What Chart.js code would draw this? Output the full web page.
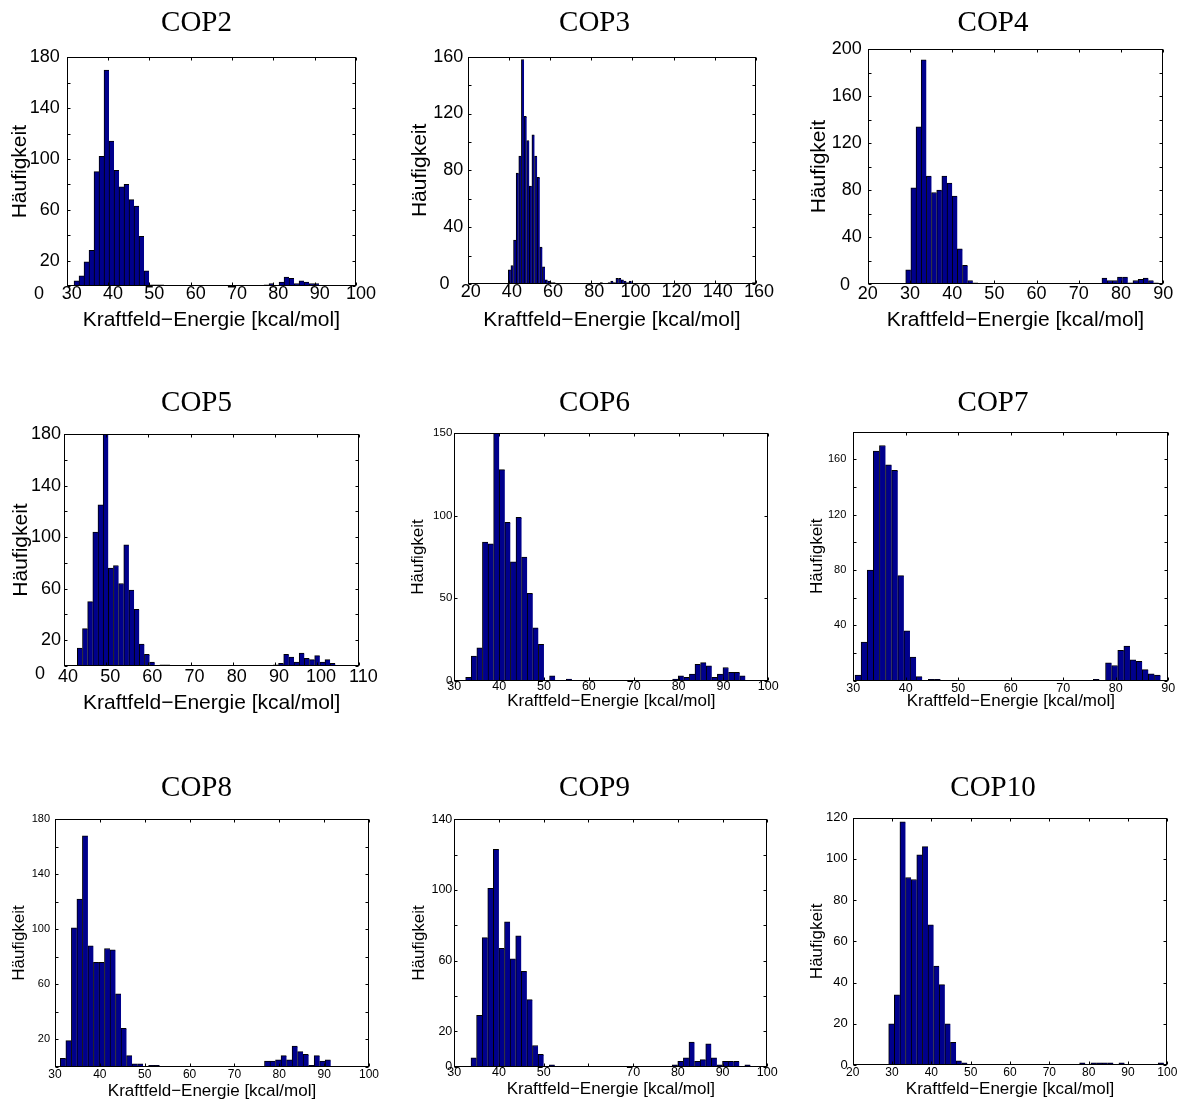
<!DOCTYPE html>
<html>
<head>
<meta charset="utf-8">
<title>Kraftfeld-Energie Histogramme COP2–COP10</title>
<script src="https://cdn.jsdelivr.net/npm/chart.js@4.4.1/dist/chart.umd.min.js"></script>
<style>
  html, body { margin: 0; padding: 0; background: #fff; }
  body { width: 1181px; height: 1107px; position: relative; overflow: hidden; }
  canvas { position: absolute; }
</style>
</head>
<body>
<script>
// ---------- data ----------
const panelNames = ['COP2', 'COP3', 'COP4', 'COP5', 'COP6', 'COP7', 'COP8', 'COP9', 'COP10'];
const xAxisTitle = 'Kraftfeld\u2212Energie [kcal/mol]';
const yAxisTitle = 'Häufigkeit';

// histogram binning: lower edge of the first bin and bin width [kcal/mol]
const binStart = [31.77, 39.7, 29.0, 43.16, 32.53, 30.32, 31.19, 33.73, 29.15];
const binWidth = [1.21, 1.275, 1.223, 1.223, 1.247, 1.164, 1.23, 1.25, 1.428];

// counts per bin
const countsCOP2 = [4, 8, 19, 28, 90, 102, 170, 114, 91, 78, 80, 68, 63, 39, 12, 1, 1, 1,
  0, 0, 0, 0, 0, 0, 0, 0, 0, 0, 0, 0, 0, 0, 0, 0, 0, 0, 0, 0,
  1, 2, 0, 3, 7, 6, 2, 4, 3, 2, 2];
const countsCOP3 = [10, 13, 31, 78, 90, 158, 118, 101, 69, 105, 90, 75, 26, 12, 3, 2, 1, 1,
  0, 0, 0, 0, 0, 0, 0, 0, 0, 0, 0, 0, 0, 0, 0, 0, 0,
  1, 0, 0, 1, 2, 1, 4, 4, 3, 2, 1, 2,
  0, 0, 0, 0, 0, 0, 0, 0, 0, 0,
  0, 0, 0, 0, 0, 0, 0, 0, 0, 0,
  0, 0, 0, 0, 0, 0, 0, 0, 0, 0,
  0, 0, 0, 0, 0, 0, 0, 0, 0, 0,
  0, 0, 0, 0, 0, 0,
  1];
const countsCOP4 = [12, 82, 134, 191, 92, 78, 80, 92, 86, 75, 30, 16, 3, 1,
  0, 0, 0, 0, 0, 0, 0, 0, 0, 0, 0, 0, 0, 0, 0, 0, 0, 0, 0, 0, 0, 0, 0, 0,
  5, 3, 3, 6, 6, 1, 3, 4, 5, 3, 1, 0];
const countsCOP5 = [14, 29, 50, 104, 125, 180, 76, 78, 64, 94, 59, 44, 17, 9, 3, 0, 1, 1,
  0, 0, 0, 0, 0, 0, 0, 0, 0, 0, 0, 0, 0, 0, 0, 0, 0, 0, 0, 0,
  1, 2, 9, 7, 3, 10, 6, 5, 8, 3, 5, 2];
const countsCOP6 = [2, 15, 20, 84, 83, 150, 128, 96, 72, 99, 75, 53, 32, 22, 0, 3, 0, 0, 1,
  0, 0, 0, 0, 0, 0, 0, 0, 0, 0, 0, 0, 0, 0, 0, 0, 0, 0,
  1, 3, 2, 4, 10, 11, 9, 2, 4, 8, 5, 5, 3];
const countsCOP7 = [4, 28, 80, 166, 170, 156, 152, 76, 36, 17, 3, 0, 1, 1,
  0, 0, 0, 0, 0, 0, 0, 0, 0, 0, 0, 0, 0, 0, 0, 0, 0, 0, 0, 0, 0, 0, 0, 0, 0,
  1, 0,
  13, 11, 22, 25, 15, 14, 8, 5, 4];
const countsCOP8 = [6, 19, 101, 122, 168, 88, 76, 76, 86, 85, 53, 28, 8, 2, 2, 0, 1, 1,
  0, 0, 0, 0, 0, 0, 0, 0, 0, 0, 0, 0, 0, 0, 0, 0, 0, 0, 0,
  4, 4, 5, 8, 5, 15, 11, 9, 1, 8, 4, 5];
const countsCOP9 = [5, 29, 73, 101, 123, 67, 82, 61, 74, 54, 38, 12, 7, 0, 1,
  0, 0, 0, 0, 0, 0, 0, 0, 0, 0, 0, 0, 0, 0, 0, 0, 0, 0, 0, 0, 0,
  1, 3, 5, 14, 3, 4, 13, 5, 1, 3, 3, 3, 0, 1];
const countsCOP10 = [20, 34, 118, 91, 90, 102, 106, 68, 48, 39, 20, 11, 2, 1,
  0, 0, 0, 0, 0, 0, 0, 0, 0, 0, 0, 0, 0, 0, 0, 0, 0, 0, 0, 0,
  1, 0, 1, 1, 1, 1, 0, 1, 0, 0, 0, 0, 0, 0, 1];
const panelCounts = [countsCOP2, countsCOP3, countsCOP4, countsCOP5, countsCOP6,
  countsCOP7, countsCOP8, countsCOP9, countsCOP10];

// axis limits and ticks
const xMin = [30, 20, 20, 40, 30, 30, 30, 30, 20];
const xMax = [100, 160, 90, 110, 100, 90, 100, 100, 100];
const xStep = [10, 20, 10, 10, 10, 10, 10, 10, 10];
const yMax = [180, 160, 200, 180, 150, 180, 180, 140, 120];
const yStep = [20, 20, 20, 20, 50, 20, 20, 20, 20];
const xTickLabels = [
  [30, 40, 50, 60, 70, 80, 90, 100],
  [20, 40, 60, 80, 100, 120, 140, 160],
  [20, 30, 40, 50, 60, 70, 80, 90],
  [40, 50, 60, 70, 80, 90, 100, 110],
  [30, 40, 50, 60, 70, 80, 90, 100],
  [30, 40, 50, 60, 70, 80, 90],
  [30, 40, 50, 60, 70, 80, 90, 100],
  [30, 40, 50, 70, 80, 90, 100],
  [20, 30, 40, 50, 60, 70, 80, 90, 100]
];
const yTickLabels = [
  [0, 20, 60, 100, 140, 180],
  [0, 40, 80, 120, 160],
  [0, 40, 80, 120, 160, 200],
  [0, 20, 60, 100, 140, 180],
  [0, 50, 100, 150],
  [40, 80, 120, 160],
  [20, 60, 100, 140, 180],
  [0, 20, 60, 100, 140],
  [0, 20, 40, 60, 80, 100, 120]
];

// ---------- layout & style ----------
const BAR_FILL = '#00008C';
const colFrames = [{ left: 0, width: 393 }, { left: 398, width: 393 }, { left: 805, width: 376 }];
const rowFrames = [{ top: 0, height: 380 }, { top: 380, height: 385 }, { top: 765, height: 342 }];
// plot frame of each panel on the page: [left, top, right, bottom]
const plotFrames = [
  [66.7, 57.3, 356, 286], [467.7, 56.7, 756, 284], [867.7, 49.3, 1163.3, 284],
  [64, 434, 359.3, 666], [454.3, 433.3, 768.3, 680.7], [853.3, 431.7, 1168.3, 680.7],
  [55, 819.3, 369, 1066.7], [454.3, 819.3, 767.3, 1066.7], [852.7, 817.7, 1167.3, 1065]
];
const panelStyles = [
  { xTick: 18, yTick: 18, axisTitle: 21, xTickPad: -1, yTickPad: 7, xLabelShift: 5, xTitlePad: 49.5, yTitlePad: 9.5, zeroShift: [-15.7, 8] },
  { xTick: 18, yTick: 18, axisTitle: 21, xTickPad: -0.5, yTickPad: 4.4, xLabelShift: 3, xTitlePad: 49.5, yTitlePad: 12, zeroShift: [-13.8, 0] },
  { xTick: 18, yTick: 18, axisTitle: 21, xTickPad: 1, yTickPad: 6, xLabelShift: 0, xTitlePad: 49.5, yTitlePad: 3.7, zeroShift: [-11.7, 0.7] },
  { xTick: 18, yTick: 18, axisTitle: 21, xTickPad: 2, yTickPad: 3, xLabelShift: 4, xTitlePad: 51.2, yTitlePad: 10.3, zeroShift: [-16, 8] },
  { xTick: 12.5, yTick: 11.5, axisTitle: 17, xTickPad: 0, yTickPad: 2, xLabelShift: 0, xTitlePad: 55.5, yTitlePad: 12.2, zeroShift: null },
  { xTick: 12.5, yTick: 11, axisTitle: 17, xTickPad: 1.5, yTickPad: 7, xLabelShift: 0, xTitlePad: 55.5, yTitlePad: 4, zeroShift: null },
  { xTick: 12, yTick: 11, axisTitle: 17, xTickPad: 2, yTickPad: 5, xLabelShift: 0, xTitlePad: 7.5, yTitlePad: 10.6, zeroShift: null },
  { xTick: 12.5, yTick: 12.5, axisTitle: 17, xTickPad: 0, yTickPad: 2, xLabelShift: 0, xTitlePad: 8.75, yTitlePad: 12.6, zeroShift: null },
  { xTick: 12, yTick: 13, axisTitle: 17, xTickPad: 1.7, yTickPad: 5, xLabelShift: 0, xTitlePad: 8.75, yTitlePad: 4, zeroShift: null }
];
const TITLE_SIZE = 29;
const TITLE_PAD_TOP = 8.5;
const TICK_LEN = 3;

Chart.defaults.font.family = "'Liberation Sans', Arial, sans-serif";
Chart.defaults.color = '#000';

// closed axes box with inward tick marks on all four sides
const framePlugin = {
  id: 'axesFrame',
  afterDatasetsDraw(chart) {
    const { ctx, chartArea: a, scales } = chart;
    const L = Math.round(a.left) + 0.5, R = Math.round(a.right) - 0.5;
    const T = Math.round(a.top) + 0.5, B = Math.round(a.bottom) - 0.5;
    ctx.save();
    ctx.strokeStyle = '#000';
    ctx.lineWidth = 1;
    ctx.beginPath();
    scales.x.ticks.forEach(t => {
      const px = Math.round(scales.x.getPixelForValue(t.value)) + 0.5;
      ctx.moveTo(px, B); ctx.lineTo(px, B - TICK_LEN);
      ctx.moveTo(px, T); ctx.lineTo(px, T + TICK_LEN);
    });
    scales.y.ticks.forEach(t => {
      const py = Math.round(scales.y.getPixelForValue(t.value)) + 0.5;
      ctx.moveTo(L, py); ctx.lineTo(L + TICK_LEN, py);
      ctx.moveTo(R, py); ctx.lineTo(R - TICK_LEN, py);
    });
    ctx.stroke();
    ctx.strokeRect(L, T, R - L, B - T);
    ctx.restore();
  }
};

// the "0" of the count axis, set apart from the other labels in some panels
const zeroLabelPlugin = {
  id: 'zeroLabel',
  afterDraw(chart, args, opts) {
    const shift = opts && opts.shift;
    if (!shift) return;
    const y = chart.scales.y;
    const font = Chart.helpers.toFont(y.options.ticks.font);
    const ctx = chart.ctx;
    ctx.save();
    ctx.font = font.string;
    ctx.fillStyle = '#000';
    ctx.textAlign = 'right';
    ctx.textBaseline = 'middle';
    ctx.fillText('0', chart.chartArea.left - y.options.ticks.padding + shift[0],
      y.getPixelForValue(0) + shift[1]);
    ctx.restore();
  }
};

panelNames.forEach((name, i) => {
  const col = colFrames[i % 3], row = rowFrames[Math.floor(i / 3)];
  const [fl, ft, fr, fb] = plotFrames[i];
  const st = panelStyles[i];
  const cx = col.left, cy = row.top, cw = col.width, ch = row.height;

  const canvas = document.createElement('canvas');
  canvas.width = cw; canvas.height = ch;
  canvas.style.left = cx + 'px'; canvas.style.top = cy + 'px';
  canvas.style.width = cw + 'px'; canvas.style.height = ch + 'px';
  document.body.appendChild(canvas);

  const points = panelCounts[i].map((c, k) => ({ x: binStart[i] + (k + 0.5) * binWidth[i], y: c }));
  const xLab = xTickLabels[i], yLab = yTickLabels[i];
  const hideZero = !!st.zeroShift;

  new Chart(canvas, {
    type: 'bar',
    data: {
      datasets: [{
        data: points,
        xAxisID: 'x', yAxisID: 'y',
        backgroundColor: BAR_FILL,
        borderColor: '#000',
        borderWidth: { left: 1, top: 1, right: 0, bottom: 0 },
        borderSkipped: false,
        barPercentage: 1,
        categoryPercentage: 1
      }]
    },
    options: {
      responsive: false,
      animation: false,
      devicePixelRatio: 1,
      events: [],
      layout: { padding: 0 },
      plugins: {
        legend: { display: false },
        tooltip: { enabled: false },
        title: {
          display: true, text: name, color: '#000',
          font: { family: "'Liberation Serif', 'Times New Roman', serif", size: TITLE_SIZE, weight: 'normal', lineHeight: 1 },
          padding: { top: TITLE_PAD_TOP, bottom: ft - cy - TITLE_PAD_TOP - TITLE_SIZE }
        },
        zeroLabel: { shift: st.zeroShift }
      },
      scales: {
        x: {
          type: 'linear', position: 'bottom',
          min: xMin[i], max: xMax[i], offset: false,
          grid: { display: false, drawTicks: false, offset: false },
          border: { display: false },
          ticks: {
            stepSize: xStep[i], autoSkip: false, maxRotation: 0, minRotation: 0,
            color: '#000', font: { size: st.xTick, lineHeight: 1 },
            padding: st.xTickPad, labelOffset: st.xLabelShift,
            callback: v => xLab.includes(v) ? String(v) : ''
          },
          title: {
            display: true, text: xAxisTitle, color: '#000',
            font: { size: st.axisTitle, lineHeight: 1 },
            padding: { top: 0, bottom: st.xTitlePad }
          },
          afterFit: s => { s.height = cy + ch - fb; }
        },
        y: {
          type: 'linear', position: 'left',
          min: 0, max: yMax[i],
          grid: { display: false, drawTicks: false },
          border: { display: false },
          ticks: {
            stepSize: yStep[i], autoSkip: false,
            color: '#000', font: { size: st.yTick, lineHeight: 1 },
            padding: st.yTickPad,
            callback: v => (yLab.includes(v) && !(hideZero && v === 0)) ? String(v) : ''
          },
          title: {
            display: true, text: yAxisTitle, color: '#000',
            font: { size: st.axisTitle, lineHeight: 1 },
            padding: { top: st.yTitlePad, bottom: 0 }
          },
          afterFit: s => { s.width = fl - cx; }
        },
        yRight: {
          type: 'linear', position: 'right',
          min: 0, max: yMax[i],
          grid: { display: false, drawTicks: false },
          border: { display: false },
          ticks: { display: false },
          afterFit: s => { s.width = cx + cw - fr; }
        }
      }
    },
    plugins: [framePlugin, zeroLabelPlugin]
  });
});
</script>
</body>
</html>
